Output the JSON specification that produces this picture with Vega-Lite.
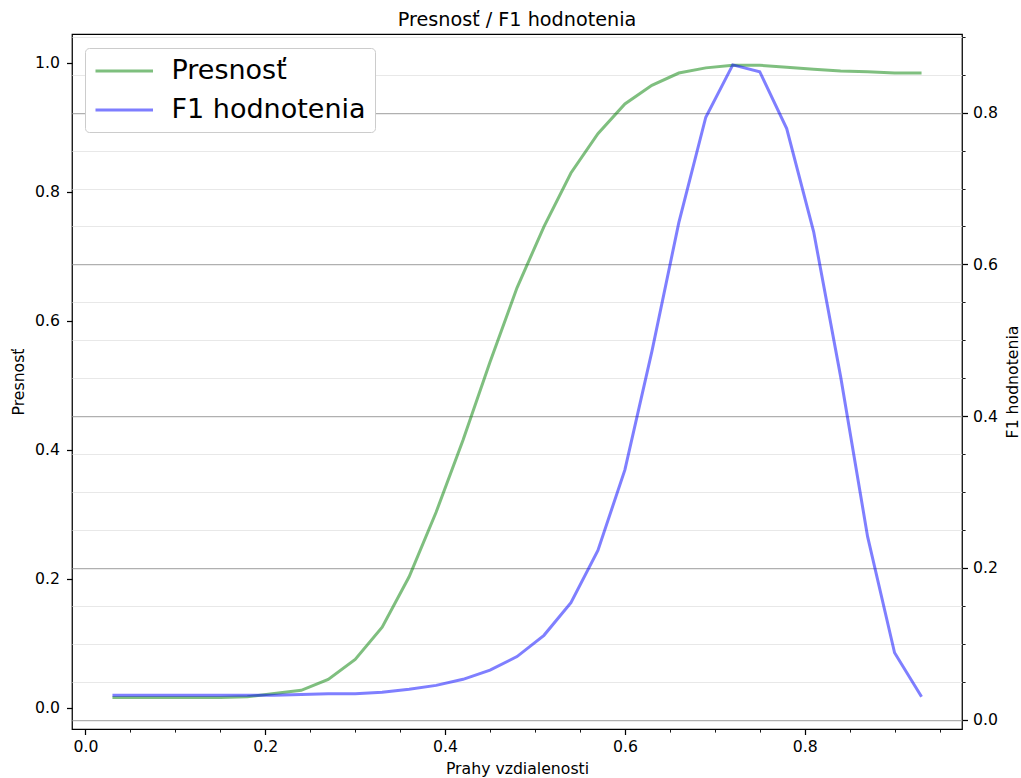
{
  "$schema": "https://vega.github.io/schema/vega-lite/v6.json",
  "width": 890,
  "height": 695,
  "autosize": {"type": "none"},
  "padding": {"left": 72, "top": 34, "right": 59, "bottom": 49},
  "background": "white",
  "title": {"text": "Presnosť / F1 hodnotenia", "font": "DejaVu Sans", "fontSize": 19.2, "fontWeight": "normal", "color": "black", "anchor": "middle", "offset": 3.5},
  "config": {
    "view": {"stroke": "black", "strokeWidth": 1.25},
    "axis": {"labelFont": "DejaVu Sans", "titleFont": "DejaVu Sans", "labelFontSize": 15.7, "titleFontSize": 15.7, "titleFontWeight": "normal", "labelColor": "black", "titleColor": "black", "tickColor": "black", "domain": false, "grid": false, "labelPadding": 5, "tickWidth": 1.25}
  },
  "data": {"values": [
    {"x": 0.03, "acc": 0.016, "f1": 0.032},
    {"x": 0.06, "acc": 0.016, "f1": 0.032},
    {"x": 0.09, "acc": 0.016, "f1": 0.032},
    {"x": 0.12, "acc": 0.016, "f1": 0.032},
    {"x": 0.15, "acc": 0.016, "f1": 0.032},
    {"x": 0.18, "acc": 0.017, "f1": 0.032},
    {"x": 0.21, "acc": 0.022, "f1": 0.032},
    {"x": 0.24, "acc": 0.027, "f1": 0.033},
    {"x": 0.27, "acc": 0.044, "f1": 0.034},
    {"x": 0.30, "acc": 0.075, "f1": 0.034},
    {"x": 0.33, "acc": 0.125, "f1": 0.036},
    {"x": 0.36, "acc": 0.203, "f1": 0.040},
    {"x": 0.39, "acc": 0.303, "f1": 0.045},
    {"x": 0.42, "acc": 0.415, "f1": 0.053},
    {"x": 0.45, "acc": 0.536, "f1": 0.065},
    {"x": 0.48, "acc": 0.651, "f1": 0.083},
    {"x": 0.51, "acc": 0.746, "f1": 0.111},
    {"x": 0.54, "acc": 0.829, "f1": 0.154},
    {"x": 0.57, "acc": 0.890, "f1": 0.223},
    {"x": 0.60, "acc": 0.936, "f1": 0.329},
    {"x": 0.63, "acc": 0.965, "f1": 0.485},
    {"x": 0.66, "acc": 0.984, "f1": 0.655},
    {"x": 0.69, "acc": 0.992, "f1": 0.794},
    {"x": 0.72, "acc": 0.996, "f1": 0.863},
    {"x": 0.75, "acc": 0.996, "f1": 0.854},
    {"x": 0.78, "acc": 0.993, "f1": 0.779},
    {"x": 0.81, "acc": 0.990, "f1": 0.643},
    {"x": 0.84, "acc": 0.987, "f1": 0.452},
    {"x": 0.87, "acc": 0.986, "f1": 0.241},
    {"x": 0.90, "acc": 0.984, "f1": 0.088},
    {"x": 0.93, "acc": 0.984, "f1": 0.030}
  ]},
  "layer": [
    {
      "mark": {"type": "line", "strokeWidth": 3, "opacity": 0.5},
      "encoding": {
        "x": {"field": "x", "type": "quantitative", "scale": {"domain": [-0.015, 0.975], "nice": false, "zero": false},
          "axis": {"title": "Prahy vzdialenosti", "values": [0, 0.05, 0.1, 0.15, 0.2, 0.25, 0.3, 0.35, 0.4, 0.45, 0.5, 0.55, 0.6, 0.65, 0.7, 0.75, 0.8, 0.85, 0.9, 0.95],
            "labelExpr": "abs(datum.value*5-round(datum.value*5))<0.001 ? format(datum.value,'.1f') : ''",
            "tickSize": {"condition": {"test": "abs(datum.value*5-round(datum.value*5))<0.001", "value": 5.5}, "value": 3.1},
            "tickWidth": {"condition": {"test": "abs(datum.value*5-round(datum.value*5))<0.001", "value": 1.25}, "value": 0.9},
            "labelPadding": 5, "titlePadding": 7}},
        "y": {"field": "acc", "type": "quantitative", "scale": {"domain": [-0.033, 1.0445], "nice": false, "zero": false},
          "axis": {"orient": "left", "title": "Presnosť", "values": [0, 0.2, 0.4, 0.6, 0.8, 1.0], "format": ".1f", "tickSize": 5.5, "labelPadding": 7, "titlePadding": 8}},
        "color": {"datum": "Presnosť", "type": "nominal",
          "scale": {"domain": ["Presnosť", "F1 hodnotenia"], "range": ["#008000", "#0000ff"]},
          "legend": {"orient": "none", "legendX": 13, "legendY": 14, "title": null, "labelFont": "DejaVu Sans", "labelFontSize": 27, "labelColor": "black", "labelLimit": 500,
            "symbolType": "M-1,0H3.6", "symbolSize": 625, "symbolStrokeWidth": 3, "symbolOpacity": 0.5, "symbolFillColor": "transparent",
            "padding": 9, "rowPadding": 12, "labelOffset": 49.5, "strokeColor": "#cccccc", "fillColor": "white", "cornerRadius": 4}}
      }
    },
    {
      "mark": {"type": "line", "strokeWidth": 3, "opacity": 0.5},
      "encoding": {
        "x": {"field": "x", "type": "quantitative"},
        "y": {"field": "f1", "type": "quantitative", "scale": {"domain": [-0.0125, 0.9037], "nice": false, "zero": false},
          "axis": {"orient": "right", "title": "F1 hodnotenia", "titleAngle": 270, "grid": true,
            "values": [0, 0.05, 0.1, 0.15, 0.2, 0.25, 0.3, 0.35, 0.4, 0.45, 0.5, 0.55, 0.6, 0.65, 0.7, 0.75, 0.8, 0.85, 0.9],
            "labelExpr": "abs(datum.value*5-round(datum.value*5))<0.001 ? format(datum.value,'.1f') : ''",
            "tickSize": {"condition": {"test": "abs(datum.value*5-round(datum.value*5))<0.001", "value": 5.5}, "value": 3.1},
            "tickWidth": {"condition": {"test": "abs(datum.value*5-round(datum.value*5))<0.001", "value": 1.25}, "value": 0.9},
            "gridColor": {"condition": {"test": "abs(datum.value*5-round(datum.value*5))<0.001", "value": "#b0b0b0"}, "value": "#e8e8e8"},
            "gridWidth": {"condition": {"test": "abs(datum.value*5-round(datum.value*5))<0.001", "value": 1.25}, "value": 1.1},
            "labelPadding": 5, "titlePadding": 23}},
        "color": {"datum": "F1 hodnotenia", "type": "nominal"}
      }
    }
  ],
  "resolve": {"scale": {"y": "independent"}, "axis": {"y": "independent"}}
}
